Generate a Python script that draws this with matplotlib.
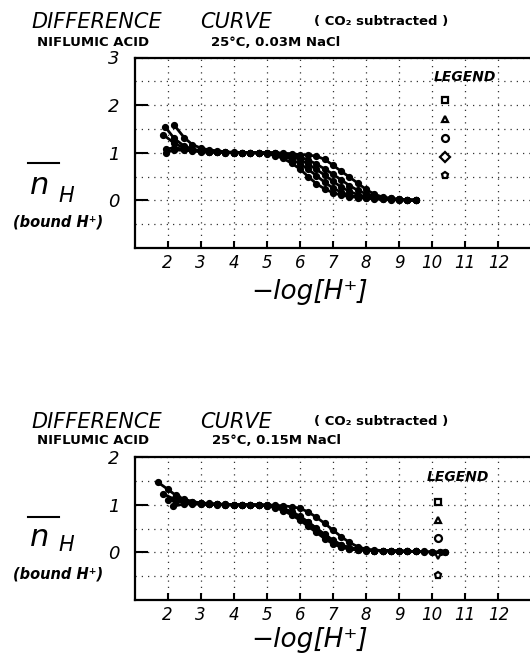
import matplotlib
matplotlib.use("Agg")
import matplotlib.pyplot as plt
from matplotlib.lines import Line2D

W, H = 530, 654

# ---------------- data ----------------
x_grid = [2.5, 2.75, 3.0, 3.25, 3.5, 3.75, 4.0, 4.25, 4.5, 4.75, 5.0, 5.25, 5.5, 5.75,
          6.0, 6.25, 6.5, 6.75, 7.0, 7.25, 7.5, 7.75, 8.0, 8.25, 8.5, 8.75, 9.0, 9.25, 9.5]

# top panel (0.03M NaCl)
t1_start_x = [1.95, 2.2]
t1_start_y = [1.00, 1.06]
t1_y = [1.05, 1.04, 1.02, 1.01, 1.01, 1.00, 1.00, 1.00, 1.00, 0.99,
        0.98, 0.94, 0.88, 0.78, 0.66, 0.50, 0.35, 0.24, 0.16, 0.11,
        0.08, 0.06, 0.04, 0.03, 0.02, 0.01, 0.01, 0.00, 0.00]
t2_start_x = [1.87, 2.2]
t2_start_y = [1.38, 1.20]
t2_y = [1.10, 1.06, 1.03, 1.02, 1.01, 1.00, 1.00, 1.00, 1.00, 1.00,
        0.99, 0.97, 0.93, 0.86, 0.77, 0.65, 0.52, 0.38, 0.26, 0.17,
        0.11, 0.07, 0.05, 0.04, 0.03, 0.02, 0.01, 0.01, 0.00]
t3_start_x = [1.92, 2.2]
t3_start_y = [1.55, 1.30]
t3_y = [1.14, 1.08, 1.04, 1.03, 1.02, 1.01, 1.00, 1.00, 1.00, 1.00,
        1.00, 0.99, 0.96, 0.92, 0.86, 0.76, 0.65, 0.53, 0.40, 0.28,
        0.19, 0.12, 0.08, 0.05, 0.04, 0.03, 0.02, 0.01, 0.01]
t4_start_x = [1.95, 2.2]
t4_start_y = [1.08, 1.10]
t4_y = [1.08, 1.05, 1.03, 1.02, 1.01, 1.01, 1.00, 1.00, 1.00, 1.00,
        1.00, 1.00, 0.98, 0.95, 0.91, 0.85, 0.76, 0.66, 0.55, 0.43,
        0.31, 0.21, 0.14, 0.09, 0.06, 0.04, 0.02, 0.01, 0.00]
t5_start_x = [2.2]
t5_start_y = [1.58]
t5_y = [1.32, 1.17, 1.10, 1.06, 1.04, 1.02, 1.01, 1.00, 1.00, 1.00,
        1.00, 1.00, 0.99, 0.98, 0.96, 0.95, 0.93, 0.86, 0.74, 0.61,
        0.49, 0.36, 0.23, 0.13, 0.07, 0.04, 0.02, 0.01, 0.01]

# bottom panel (0.15M NaCl)
b1_start_x = [1.70, 2.0, 2.25]
b1_start_y = [1.48, 1.33, 1.20]
b1_y = [1.12, 1.07, 1.04, 1.03, 1.02, 1.01, 1.00, 1.00, 1.00, 1.00,
        1.00, 0.99, 0.98, 0.96, 0.93, 0.85, 0.74, 0.61, 0.47, 0.33,
        0.21, 0.12, 0.07, 0.05, 0.04, 0.04, 0.03, 0.03, 0.02]
b1_tail_x = [9.75, 10.0, 10.25, 10.4]
b1_tail_y = [0.02, 0.01, 0.01, 0.00]
b2_start_x = [1.87, 2.2]
b2_start_y = [1.23, 1.12]
b2_y = [1.07, 1.04, 1.03, 1.02, 1.01, 1.00, 1.00, 1.00, 1.00, 1.00,
        0.99, 0.95, 0.89, 0.82, 0.71, 0.58, 0.45, 0.32, 0.20, 0.12,
        0.08, 0.06, 0.05, 0.04, 0.04, 0.03, 0.03, 0.02, 0.02]
b3_start_x = [2.17]
b3_start_y = [0.97]
b3_y = [1.02, 1.02, 1.01, 1.01, 1.00, 1.00, 1.00, 1.00, 1.00, 0.99,
        0.98, 0.96, 0.91, 0.85, 0.75, 0.63, 0.50, 0.37, 0.25, 0.15,
        0.10, 0.07, 0.05, 0.04, 0.04, 0.03, 0.03, 0.02, 0.02]
b3_tail_x = [9.75, 10.0, 10.25, 10.4]
b3_tail_y = [0.01, 0.01, 0.00, 0.00]
b4_start_x = [2.0, 2.25]
b4_start_y = [1.10, 1.08]
b4_y = [1.05, 1.03, 1.02, 1.01, 1.01, 1.00, 1.00, 1.00, 1.00, 0.99,
        0.98, 0.94, 0.88, 0.79, 0.68, 0.55, 0.42, 0.29, 0.18, 0.11,
        0.07, 0.05, 0.04, 0.04, 0.03, 0.03, 0.02, 0.02, 0.02]
b5_start_x = [2.3]
b5_start_y = [1.16]
b5_y = [1.09, 1.05, 1.03, 1.02, 1.01, 1.01, 1.00, 1.00, 1.00, 1.00,
        0.99, 0.97, 0.92, 0.86, 0.76, 0.64, 0.51, 0.38, 0.26, 0.16,
        0.10, 0.07, 0.05, 0.04, 0.04, 0.03, 0.03, 0.02, 0.02]

x_ticks = [2, 3, 4, 5, 6, 7, 8, 9, 10, 11, 12]
x_tick_labels = [str(v) for v in x_ticks]
top_yticks = [0, 1, 2, 3]
bot_yticks = [0, 1, 2]
top_legend_markers = ['s', '^', 'o', 'D', 'p']
bot_legend_markers = ['s', '^', 'o', 'v', 'p']

top_series = [
    (t1_start_x + x_grid, t1_start_y + t1_y),
    (t2_start_x + x_grid, t2_start_y + t2_y),
    (t3_start_x + x_grid, t3_start_y + t3_y),
    (t4_start_x + x_grid, t4_start_y + t4_y),
    (t5_start_x + x_grid, t5_start_y + t5_y),
]
bot_series = [
    (b1_start_x + x_grid + b1_tail_x, b1_start_y + b1_y + b1_tail_y),
    (b2_start_x + x_grid, b2_start_y + b2_y),
    (b3_start_x + x_grid + b3_tail_x, b3_start_y + b3_y + b3_tail_y),
    (b4_start_x + x_grid, b4_start_y + b4_y),
    (b5_start_x + x_grid, b5_start_y + b5_y),
]

# ---------------- figure ----------------
fig = plt.figure(figsize=(W / 100, H / 100), dpi=100)


def P(x, y):
    return (x / W, 1 - y / H)


def make_axes(top_px, bottom_px, ylim, yticks):
    left_px, right_px = 134.5, 531.4
    ax = fig.add_axes([left_px / W, 1 - bottom_px / H,
                       (right_px - left_px) / W, (bottom_px - top_px) / H])
    ax.set_xlim(1, 13)
    ax.set_ylim(*ylim)
    ax.set_xticks(x_ticks)
    ax.set_xticklabels(x_tick_labels, fontsize=12, style='italic')
    ax.set_yticks(yticks)
    ax.set_yticklabels([str(v) for v in yticks], fontsize=13, style='italic')
    minor = [v + 0.5 for v in range(int(ylim[0]), int(ylim[1]))]
    ax.set_yticks(minor, minor=True)
    ax.tick_params(axis='x', direction='in', length=5, width=1.5, pad=4)
    ax.tick_params(axis='y', direction='in', length=9, width=1.5, pad=11)
    ax.tick_params(axis='y', which='minor', length=0)
    ax.grid(True, which='major', axis='both', color='#333333',
            linestyle=(0, (1, 4)), linewidth=0.9)
    ax.grid(True, which='minor', axis='y', color='#333333',
            linestyle=(0, (1, 4)), linewidth=0.9)
    for s in ax.spines.values():
        s.set_linewidth(1.6)
    ax.set_axisbelow(True)
    return ax


def draw_panel(ax, series, markers, legend_xy, marker_x, marker_y0, step):
    for xs, ys in series:
        ax.plot(xs, ys, color='black', linewidth=2.0, marker='o',
                markersize=4.2, markerfacecolor='black', markeredgecolor='black')
    ax.text(legend_xy[0], legend_xy[1], 'LEGEND', transform=ax.transAxes,
            fontsize=10, style='italic', fontweight='bold', va='center', ha='left')
    for i, m in enumerate(markers):
        ax.plot([marker_x], [marker_y0 - i * step], transform=ax.transAxes,
                marker=m, markersize=5, markerfacecolor='white',
                markeredgecolor='black', markeredgewidth=1.6, linestyle='none',
                clip_on=False)


ax1 = make_axes(57.5, 248.0, (-1, 3), top_yticks)
draw_panel(ax1, top_series, top_legend_markers, (0.753, 0.899), 0.782, 0.777, 0.099)

ax2 = make_axes(457.3, 600.0, (-1, 2), bot_yticks)
draw_panel(ax2, bot_series, bot_legend_markers, (0.736, 0.864), 0.765, 0.69, 0.128)


def header(y_title, y_sub, salt):
    fig.text(*P(97, y_title), 'DIFFERENCE', fontsize=15, style='italic',
             ha='center', va='center')
    fig.text(*P(236, y_title), 'CURVE', fontsize=15, style='italic',
             ha='center', va='center')
    fig.text(*P(381, y_title), '( CO₂ subtracted )', fontsize=9.5,
             fontweight='bold', ha='center', va='center')
    fig.text(*P(93, y_sub), 'NIFLUMIC ACID', fontsize=9.5, fontweight='bold',
             ha='center', va='center')
    fig.text(*P(276, y_sub), '25°C, ' + salt, fontsize=9.5, fontweight='bold',
             ha='center', va='center')


def ylabel(y_n, y_h, y_bar, y_bound):
    fig.text(*P(40, y_n), 'n', fontsize=22, style='italic', ha='center', va='center')
    fig.text(*P(66, y_h), 'H', fontsize=15, style='italic', ha='center', va='center')
    x0, y0 = P(28, y_bar)
    x1, _ = P(59, y_bar)
    fig.add_artist(Line2D([x0, x1], [y0, y0], color='black', linewidth=1.5,
                          transform=fig.transFigure))
    fig.text(*P(58, y_bound), '(bound H⁺)', fontsize=10.5, style='italic',
             fontweight='bold', ha='center', va='center')


def xlabel(y, va):
    fig.text(*P(310, y), '−log[H⁺]', fontsize=19, style='italic',
             ha='center', va=va)


header(22, 42.5, '0.03M NaCl')
ylabel(185, 196, 163.3, 221.7)
xlabel(292, 'center')

header(421.7, 440.7, '0.15M NaCl')
ylabel(537, 545, 516.7, 574)
xlabel(653, 'bottom')

fig.savefig('out.png', dpi=100)
